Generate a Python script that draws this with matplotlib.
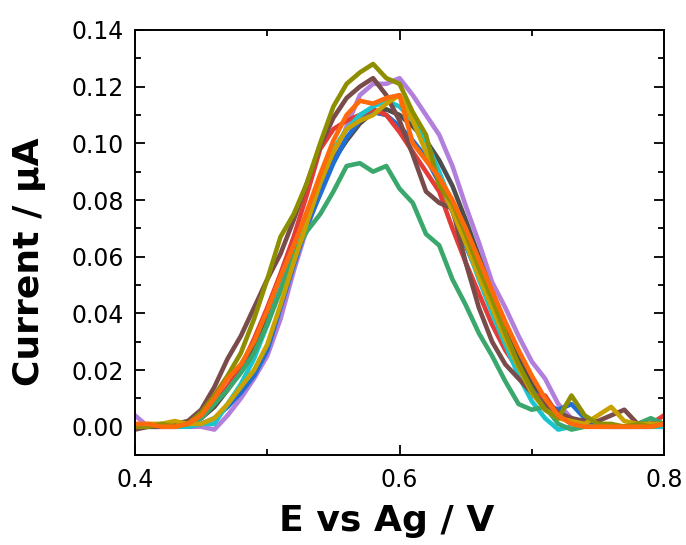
import numpy as np
import matplotlib
matplotlib.use("Agg")
import matplotlib.pyplot as plt
from matplotlib.ticker import MultipleLocator

potential = np.round(np.arange(0.40, 0.8001, 0.01), 2)

purple = [0.004, 0.000, 0.000, 0.000, 0.000, 0.000, -0.001, 0.004, 0.010, 0.017,
          0.025, 0.038, 0.055, 0.070, 0.083, 0.094, 0.106, 0.117, 0.121, 0.121,
          0.123, 0.117, 0.110, 0.103, 0.092, 0.078, 0.065, 0.051, 0.042, 0.032,
          0.023, 0.017, 0.008, 0.003, 0.001, 0.000, 0.000, 0.000, 0.000, 0.000, 0.000]
gray = [0.000, 0.000, 0.000, 0.000, 0.001, 0.003, 0.007, 0.013, 0.020, 0.029,
        0.039, 0.051, 0.063, 0.075, 0.087, 0.094, 0.101, 0.107, 0.111, 0.112,
        0.110, 0.106, 0.101, 0.094, 0.085, 0.073, 0.060, 0.047, 0.035, 0.024,
        0.015, 0.008, 0.004, 0.002, 0.002, 0.001, 0.000, 0.000, 0.000, 0.000, 0.000]
blue = [0.000, 0.000, 0.000, 0.000, 0.000, 0.001, 0.003, 0.007, 0.012, 0.018,
        0.027, 0.042, 0.057, 0.071, 0.082, 0.093, 0.102, 0.108, 0.111, 0.110,
        0.106, 0.101, 0.095, 0.086, 0.076, 0.064, 0.053, 0.042, 0.031, 0.021,
        0.013, 0.008, 0.006, 0.008, 0.003, 0.001, 0.000, 0.000, 0.000, 0.000, 0.000]
red = [0.001, 0.000, 0.000, 0.000, 0.001, 0.003, 0.008, 0.014, 0.021, 0.031,
       0.042, 0.054, 0.067, 0.082, 0.098, 0.105, 0.108, 0.110, 0.112, 0.110,
       0.104, 0.097, 0.090, 0.083, 0.070, 0.058, 0.047, 0.036, 0.027, 0.020,
       0.011, 0.011, 0.004, 0.001, 0.000, 0.000, 0.000, 0.000, 0.000, 0.001, 0.004]
cyan = [0.000, 0.000, 0.000, 0.000, 0.000, 0.001, 0.001, 0.008, 0.015, 0.024,
        0.036, 0.049, 0.062, 0.075, 0.088, 0.098, 0.105, 0.110, 0.113, 0.115,
        0.113, 0.108, 0.101, 0.090, 0.078, 0.065, 0.052, 0.040, 0.029, 0.018,
        0.009, 0.003, -0.001, 0.000, 0.000, 0.000, 0.000, 0.000, 0.000, 0.000, 0.000]
green = [0.000, 0.000, 0.000, 0.000, 0.001, 0.003, 0.008, 0.013, 0.019, 0.026,
         0.036, 0.048, 0.061, 0.069, 0.075, 0.083, 0.092, 0.093, 0.090, 0.092,
         0.084, 0.079, 0.068, 0.064, 0.052, 0.043, 0.033, 0.025, 0.016, 0.008,
         0.006, 0.007, 0.001, -0.001, 0.000, 0.000, 0.000, 0.000, 0.001, 0.003, 0.001]
brown = [-0.001, 0.000, 0.000, 0.001, 0.002, 0.006, 0.014, 0.024, 0.032, 0.042,
         0.052, 0.061, 0.073, 0.086, 0.099, 0.109, 0.116, 0.120, 0.123, 0.117,
         0.108, 0.096, 0.083, 0.079, 0.077, 0.058, 0.042, 0.030, 0.022, 0.017,
         0.012, 0.008, 0.005, 0.003, 0.002, 0.002, 0.004, 0.006, 0.001, 0.001, 0.001]
gold = [0.000, 0.001, 0.001, 0.002, 0.001, 0.001, 0.003, 0.008, 0.014, 0.020,
        0.029, 0.043, 0.058, 0.072, 0.086, 0.097, 0.105, 0.108, 0.110, 0.114,
        0.117, 0.108, 0.097, 0.087, 0.076, 0.065, 0.053, 0.042, 0.031, 0.021,
        0.012, 0.006, 0.003, 0.002, 0.001, 0.004, 0.007, 0.002, 0.001, 0.001, 0.001]
olive = [0.000, 0.000, 0.001, 0.000, 0.001, 0.005, 0.011, 0.018, 0.026, 0.038,
         0.052, 0.067, 0.075, 0.086, 0.100, 0.113, 0.121, 0.125, 0.128, 0.123,
         0.121, 0.111, 0.103, 0.085, 0.079, 0.068, 0.056, 0.045, 0.033, 0.022,
         0.013, 0.006, 0.003, 0.011, 0.004, 0.001, 0.001, 0.000, 0.001, 0.000, 0.001]
orange = [0.001, 0.001, 0.000, 0.000, 0.001, 0.004, 0.010, 0.017, 0.022, 0.030,
          0.041, 0.053, 0.064, 0.076, 0.089, 0.101, 0.110, 0.115, 0.114, 0.116,
          0.117, 0.100, 0.094, 0.088, 0.080, 0.070, 0.059, 0.048, 0.037, 0.027,
          0.018, 0.010, 0.004, 0.001, 0.000, 0.000, 0.000, 0.000, 0.000, 0.000, 0.001]

x_ticks = [0.4, 0.6, 0.8]
x_ticklabels = ["0.4", "0.6", "0.8"]
y_ticks = [0.00, 0.02, 0.04, 0.06, 0.08, 0.10, 0.12, 0.14]
y_ticklabels = ["0.00", "0.02", "0.04", "0.06", "0.08", "0.10", "0.12", "0.14"]

series = [
    (purple, "#b27fdc"),
    (gray, "#4d4d4d"),
    (blue, "#1f6ed6"),
    (red, "#e33b36"),
    (cyan, "#1cc4cf"),
    (green, "#3aa86c"),
    (brown, "#7a4b4b"),
    (gold, "#c9a200"),
    (olive, "#8e8f00"),
    (orange, "#ff6a0a"),
]

plt.rcParams['font.family'] = ['DejaVu Sans']

fig = plt.figure(figsize=(6.86, 5.45), dpi=100)
ax = fig.add_axes([0.1968, 0.165, 0.7712, 0.780])

for vals, col in series:
    ax.plot(potential, vals, color=col, lw=3.3, solid_joinstyle='round', solid_capstyle='round')

ax.set_xlim(0.4, 0.8)
ax.set_ylim(-0.01, 0.14)
ax.set_xticks(x_ticks)
ax.set_xticklabels(x_ticklabels)
ax.set_yticks(y_ticks)
ax.set_yticklabels(y_ticklabels)
ax.xaxis.set_minor_locator(MultipleLocator(0.1))
ax.yaxis.set_minor_locator(MultipleLocator(0.01))

ax.tick_params(which='both', direction='in', top=True, right=True, width=1.3, labelsize=17)
ax.tick_params(which='major', length=7)
ax.tick_params(which='minor', length=4)
ax.tick_params(axis='x', pad=9)
ax.tick_params(axis='y', pad=8)
for s in ax.spines.values():
    s.set_linewidth(1.4)

ax.set_xlabel("E vs Ag / V", fontsize=26, fontweight='bold')
ax.set_ylabel("Current / μA", fontsize=26, fontweight='bold')
ax.xaxis.set_label_coords(0.475, -0.115)
ax.yaxis.set_label_coords(-0.168, 0.455)

fig.savefig("out.png", dpi=100)
